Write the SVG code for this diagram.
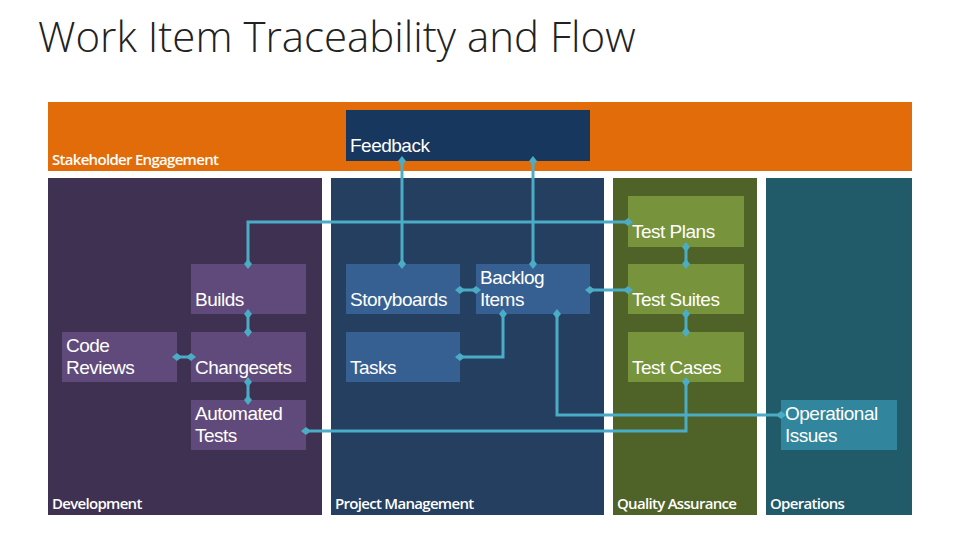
<svg xmlns="http://www.w3.org/2000/svg" width="960" height="540" viewBox="0 0 960 540">
<defs>
<marker id="d" viewBox="-5 -5 10 10" markerWidth="10" markerHeight="10" markerUnits="userSpaceOnUse" orient="auto"><path d="M-5,0 L0,-4 L5,0 L0,4 Z" fill="#4BACC6"/></marker>
</defs>
<style>
text{font-family:"Open Sans","Noto Sans","Liberation Sans",sans-serif;fill:#fff;letter-spacing:-0.6px}
.n{font-size:19px;font-family:"Liberation Sans",Arial,sans-serif;letter-spacing:-0.5px}
.l{font-size:15px;font-weight:600;letter-spacing:-0.7px}
.c{fill:none;stroke:#4BACC6;stroke-width:3;marker-start:url(#d);marker-end:url(#d)}
</style>
<rect width="960" height="540" fill="#fff"/>
<text x="38" y="52" style="font-size:42px;font-weight:300;fill:#222;letter-spacing:0px">Work Item Traceability and Flow</text>
<g id="stakeholder"><rect x="48" y="102" width="864" height="69" fill="#E36C0A"/><text class="l" x="52" y="165">Stakeholder Engagement</text></g>
<g id="development"><rect x="48" y="178" width="274" height="337" fill="#3F3151"/><text class="l" x="52" y="509">Development</text></g>
<g id="pm"><rect x="331" y="178" width="273" height="337" fill="#243F60"/><text class="l" x="335" y="509">Project Management</text></g>
<g id="qa"><rect x="613" y="178" width="144" height="337" fill="#4F6228"/><text class="l" x="617" y="509">Quality Assurance</text></g>
<g id="ops"><rect x="766" y="178" width="146" height="337" fill="#215A69"/><text class="l" x="770" y="509">Operations</text></g>
<g id="feedback"><rect x="346" y="110" width="244" height="51" fill="#17375E"/><text class="n" x="350" y="152">Feedback</text></g>
<g id="builds"><rect x="191" y="264" width="115" height="50" fill="#604A7B"/><text class="n" x="195" y="306">Builds</text></g>
<g id="codereviews"><rect x="62" y="332" width="115" height="50" fill="#604A7B"/><text class="n" x="66" y="352">Code</text><text class="n" x="66" y="374">Reviews</text></g>
<g id="changesets"><rect x="191" y="332" width="115" height="50" fill="#604A7B"/><text class="n" x="195" y="374">Changesets</text></g>
<g id="automatedtests"><rect x="191" y="400" width="115" height="50" fill="#604A7B"/><text class="n" x="195" y="420">Automated</text><text class="n" x="195" y="442">Tests</text></g>
<g id="storyboards"><rect x="346" y="264" width="114" height="50" fill="#376092"/><text class="n" x="350" y="306">Storyboards</text></g>
<g id="backlog"><rect x="476" y="264" width="114" height="50" fill="#376092"/><text class="n" x="480" y="284">Backlog</text><text class="n" x="480" y="306">Items</text></g>
<g id="tasks"><rect x="346" y="332" width="114" height="50" fill="#376092"/><text class="n" x="350" y="374">Tasks</text></g>
<g id="testplans"><rect x="628" y="196" width="116" height="51" fill="#77933C"/><text class="n" x="632" y="238">Test Plans</text></g>
<g id="testsuites"><rect x="628" y="264" width="116" height="50" fill="#77933C"/><text class="n" x="632" y="306">Test Suites</text></g>
<g id="testcases"><rect x="628" y="332" width="116" height="50" fill="#77933C"/><text class="n" x="632" y="374">Test Cases</text></g>
<g id="opissues"><rect x="781" y="400" width="116" height="50" fill="#31859C"/><text class="n" x="785" y="420">Operational</text><text class="n" x="785" y="442">Issues</text></g>
<g id="connectors">
<path class="c" d="M402,161 V264"/>
<path class="c" d="M533,161 V264"/>
<path class="c" d="M248,264 V222 H628"/>
<path class="c" d="M248,314 V332"/>
<path class="c" d="M177,357 H191"/>
<path class="c" d="M248,382 V400"/>
<path class="c" d="M460,290 H476"/>
<path class="c" d="M503,314 V357 H460"/>
<path class="c" d="M590,290 H628"/>
<path class="c" d="M686,247 V264"/>
<path class="c" d="M686,314 V332"/>
<path class="c" d="M557,314 V415 H781"/>
<path class="c" d="M686,382 V431 H306"/>
</g>
</svg>
